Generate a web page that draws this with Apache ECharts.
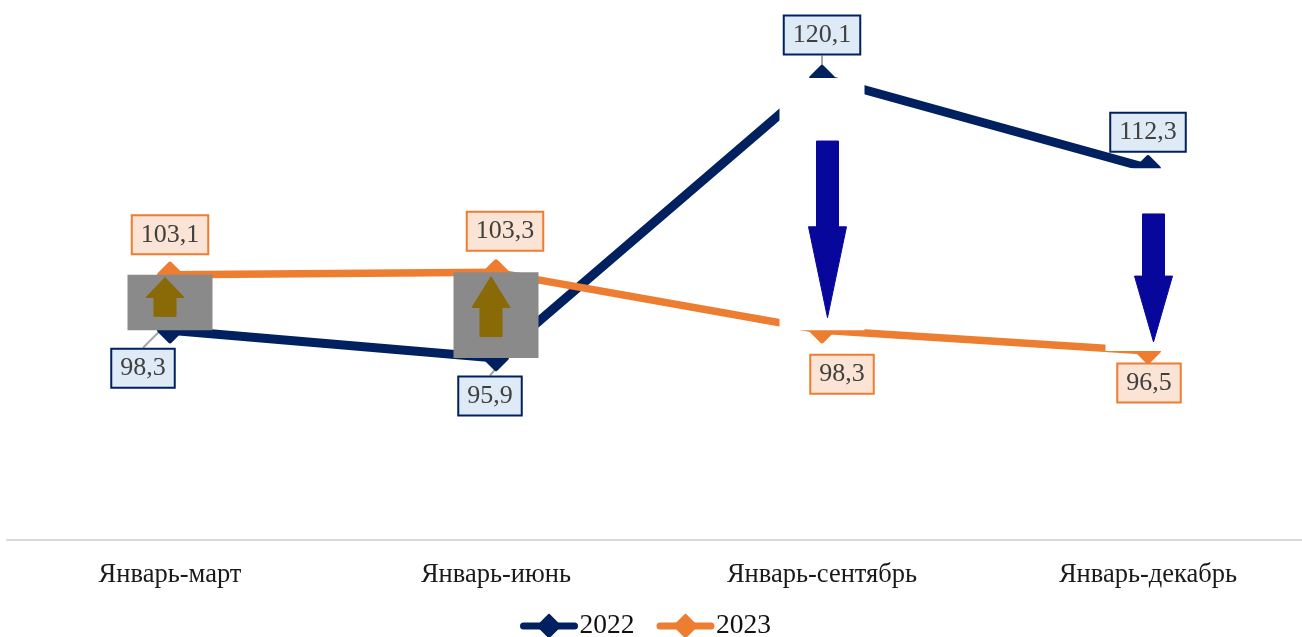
<!DOCTYPE html>
<html>
<head>
<meta charset="utf-8">
<style>html,body{margin:0;padding:0;background:#fff;overflow:hidden}#c{width:1302px;height:637px}</style>
<script src="https://cdn.jsdelivr.net/npm/echarts@6/dist/echarts.min.js"></script>
</head>
<body>
<div id="c"></div>
<script>
const categories = ['Январь-март', 'Январь-июнь', 'Январь-сентябрь', 'Январь-декабрь'];
const values2022 = [98.3, 95.9, 120.1, 112.3];
const values2023 = [103.1, 103.3, 98.3, 96.5];

const navy = '#002060', orange = '#ED7D31';
const serif = '"Liberation Serif", serif';
const fmt = v => v.toFixed(1).replace('.', ',');
const offsets2022 = [[-27, 38], [-6, 38], [0, -43], [0, -36]];
const offsets2023 = [[0, -40], [9, -41], [20, 44], [1, 32]];
const leaders2022 = [true, true, true, false];
const leaders2023 = [false, false, false, false];

function lineSeries(name, values, color, fill, offsets, leaders, width) {
  return {
    name, type: 'line', z: 2, clip: false,
    data: values.map((v, i) => ({ value: v, labelLine: { show: leaders[i] } })),
    symbol: 'diamond', symbolSize: 21, showSymbol: true,
    lineStyle: { color, width, cap: 'round', join: 'round' },
    itemStyle: { color, borderColor: color, borderWidth: 5, borderJoin: 'round' },
    label: {
      show: true, position: 'inside', formatter: p => fmt(p.value),
      fontFamily: serif, fontSize: 26, color: '#404040',
      backgroundColor: fill, borderColor: color, borderWidth: 2,
      padding: [8, 8, 3, 8]
    },
    labelLine: { show: true, lineStyle: { color: '#a6a6a6', width: 2 } },
    labelLayout: p => ({ dx: offsets[p.dataIndex][0], dy: offsets[p.dataIndex][1] }),
    emphasis: { disabled: true }
  };
}

// Up/down bars between the two series, filled with a stretched arrow picture
function renderBar(params, api) {
  const i = api.value(0), a = api.value(1), b = api.value(2);
  const x = api.coord([i, a])[0], ya = api.coord([i, a])[1], yb = api.coord([i, b])[1];
  const top = Math.min(ya, yb), h = Math.abs(ya - yb), w = 85;
  const up = b > a;
  const cx = x + (up ? -5 : 5.5);
  const pts = up
    ? [[cx, top + .05 * h], [cx + 19, top + .41 * h], [cx + 11, top + .41 * h], [cx + 11, top + .75 * h],
       [cx - 11, top + .75 * h], [cx - 11, top + .41 * h], [cx - 19, top + .41 * h]]
    : [[cx - 11, top + .25 * h], [cx + 11, top + .25 * h], [cx + 11, top + .59 * h], [cx + 19, top + .59 * h],
       [cx, top + .95 * h], [cx - 19, top + .59 * h], [cx - 11, top + .59 * h]];
  const col = up ? '#8A6A07' : '#07079B';
  return {
    type: 'group',
    children: [
      { type: 'rect', shape: { x: x - w / 2, y: top, width: w, height: h }, style: { fill: up ? '#8A8A8A' : '#FFFFFF' } },
      { type: 'polygon', shape: { points: pts }, style: { fill: col, stroke: col, lineWidth: 1, lineJoin: 'round' } }
    ]
  };
}

const chart = echarts.init(document.getElementById('c'), null, { renderer: 'canvas' });
chart.setOption({
  animation: false,
  backgroundColor: '#fff',
  textStyle: { fontFamily: serif },
  grid: { left: 7, width: 1304, top: 0, height: 540, outerBoundsMode: 'none' },
  xAxis: {
    type: 'category', data: categories, boundaryGap: true,
    axisLine: { lineStyle: { color: '#D9D9D9', width: 2 } },
    axisTick: { show: false },
    axisLabel: { fontFamily: serif, fontSize: 26.5, color: '#1a1a1a', margin: 22 }
  },
  yAxis: { type: 'value', min: 80.17, max: 126.84, show: false, splitLine: { show: false } },
  legend: {
    data: ['2022', '2023'], top: 607, left: 515, itemWidth: 51, itemHeight: 28, itemGap: 22,
    lineStyle: { width: 7, cap: 'round' },
    textStyle: { fontFamily: serif, fontSize: 27.5, color: '#111', padding: [10, 0, 0, 0] }
  },
  series: [
    lineSeries('2022', values2022, navy, '#DEEAF6', offsets2022, leaders2022, 9),
    lineSeries('2023', values2023, orange, '#FBE4D5', offsets2023, leaders2023, 7.5),
    {
      name: 'bars', type: 'custom', z: 5, clip: false, silent: true,
      data: categories.map((c, i) => [i, values2022[i], values2023[i]]),
      encode: { x: 0, y: [1, 2] },
      renderItem: renderBar
    }
  ]
});
</script>
</body>
</html>
